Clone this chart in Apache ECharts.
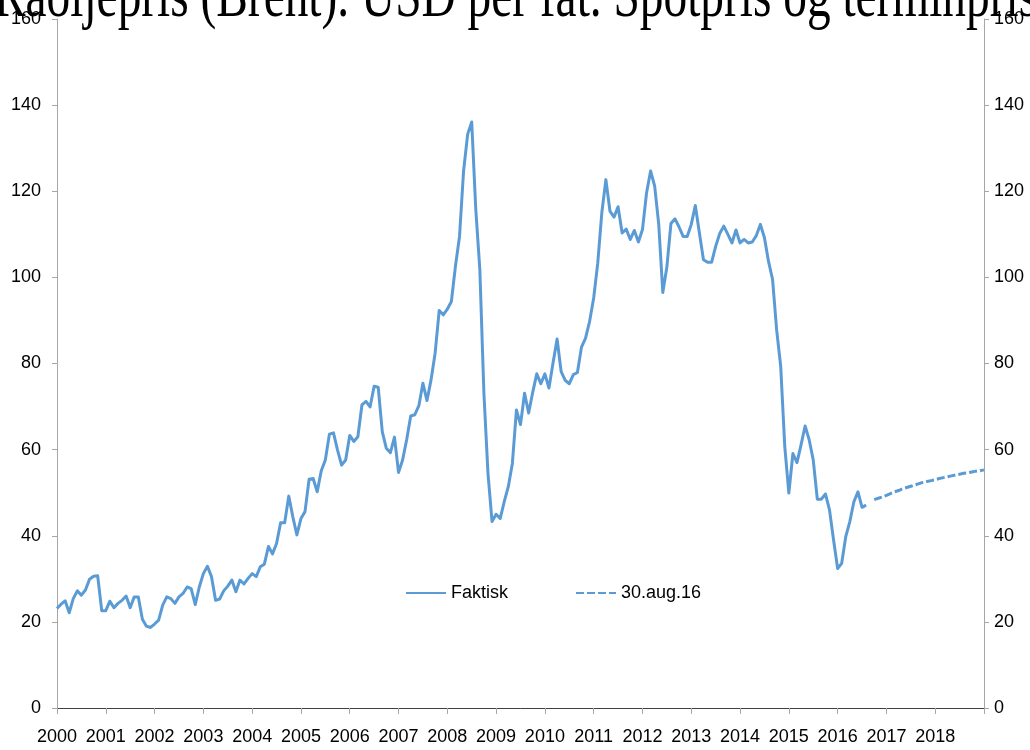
<!DOCTYPE html>
<html>
<head>
<meta charset="utf-8">
<title>Råoljepris (Brent)</title>
<script src="https://cdn.jsdelivr.net/npm/echarts@6/dist/echarts.min.js"></script>
<style>
  html, body { margin: 0; padding: 0; background: #fff; }
  #main { width: 1030px; height: 750px; }
</style>
</head>
<body>
<div id="main"></div>
<script>
// Brent, USD per fat. Månedssnitt jan 2000 - aug 2016
var faktisk = [
  23.1, 24.1, 24.9, 22.1, 25.4, 27.2, 26.2, 27.4, 29.9, 30.6, 30.7, 22.6,
  22.6, 24.8, 23.3, 24.3, 25.0, 26.0, 23.3, 25.8, 25.8, 20.6, 19.0, 18.7,
  19.5, 20.4, 23.9, 25.8, 25.4, 24.3, 25.8, 26.6, 28.1, 27.7, 24.0, 28.1,
  31.2, 32.9, 30.5, 25.0, 25.3, 27.2, 28.3, 29.7, 27.0, 29.7, 28.8, 30.1,
  31.2, 30.5, 32.8, 33.4, 37.5, 35.8, 38.2, 43.0, 43.0, 49.2, 44.4, 40.2,
  44.0, 45.6, 53.1, 53.3, 50.2, 55.1, 57.6, 63.6, 63.9, 59.9, 56.4, 57.6,
  63.3, 61.9, 63.0, 70.4, 71.2, 69.9, 74.7, 74.5, 64.2, 60.3, 59.3, 62.9,
  54.7, 57.6, 62.3, 67.8, 68.1, 70.2, 75.4, 71.4, 76.2, 82.4, 92.3, 91.3,
  92.6, 94.4, 102.6, 109.5, 124.7, 133.2, 136.1, 115.8, 101.8, 73.1, 54.5, 43.3,
  45.0, 44.0, 47.9, 51.4, 56.8, 69.2, 65.8, 73.1, 68.5, 73.3, 77.6, 75.3,
  77.6, 74.3, 80.1, 85.7, 78.1, 76.1, 75.3, 77.4, 77.9, 83.8, 85.9, 89.8,
  95.2, 103.3, 115.0, 122.7, 115.4, 114.0, 116.4, 110.3, 111.2, 108.8, 110.9, 108.2,
  111.1, 119.6, 124.7, 121.2, 112.3, 96.5, 102.4, 112.5, 113.6, 111.7, 109.5, 109.5,
  112.3, 116.7, 110.3, 104.1, 103.5, 103.5, 107.2, 110.2, 111.9, 110.0, 108.0, 111.0,
  108.0, 108.8, 108.0, 108.2, 109.7, 112.3, 109.2, 103.7, 99.5, 87.8, 79.3, 60.7,
  49.9, 59.1, 57.0, 61.1, 65.5, 62.3, 57.6, 48.5, 48.5, 49.7, 46.0, 39.0,
  32.4, 33.6, 39.8, 43.3, 47.9, 50.2, 46.6, 47.1
];
// terminpriser 30.aug.16, okt 2016 - jan 2019
var termin = [
  48.4, 48.7, 49.0, 49.4, 49.8, 50.2, 50.5, 50.9, 51.2, 51.5, 51.8, 52.1,
  52.4, 52.6, 52.8, 53.0, 53.3, 53.5, 53.7, 53.9, 54.1, 54.3, 54.5, 54.6,
  54.8, 55.0, 55.1, 55.3
];
var faktiskStart = [2000, 1];
var terminStart = [2016, 10];
var years = [2000, 2001, 2002, 2003, 2004, 2005, 2006, 2007, 2008, 2009,
  2010, 2011, 2012, 2013, 2014, 2015, 2016, 2017, 2018];
var yTicks = [0, 20, 40, 60, 80, 100, 120, 140, 160];
var tittel = 'Råoljepris (Brent). USD per fat. Spotpris og terminpris';

var blue = '#5b9bd5';
var axisGrey = '#a6a6a6';
var sans = '"Liberation Sans", Arial, sans-serif';

// månedsindeks -> år med desimaler
function toPoints(start, values) {
  return values.map(function (v, i) {
    var m = (start[0] - years[0]) * 12 + start[1] - 1 + i;
    return [years[0] + m / 12, v];
  });
}

function yAxisCfg(pos, margin) {
  return {
    type: 'value',
    position: pos,
    min: yTicks[0],
    max: yTicks[yTicks.length - 1],
    interval: yTicks[1] - yTicks[0],
    axisLine: { show: true, lineStyle: { color: axisGrey, width: 1 } },
    axisTick: { show: true, length: 5, lineStyle: { color: axisGrey } },
    axisLabel: { margin: margin, color: '#000', fontSize: 18, fontFamily: sans },
    splitLine: { show: false }
  };
}

var chart = echarts.init(document.getElementById('main'));
chart.setOption({
  animation: false,
  backgroundColor: '#fff',
  grid: { left: 57, right: 46, top: 19, bottom: 42 },
  graphic: [{
    type: 'text',
    x: -6,
    y: 31,
    scaleX: 0.74,
    z: 100,
    style: {
      text: tittel,
      font: '64px "Liberation Serif", "Times New Roman", serif',
      fill: '#000',
      verticalAlign: 'bottom'
    }
  }],
  legend: {
    left: 405,
    top: 584,
    padding: 0,
    itemWidth: 40,
    itemHeight: 14,
    itemGap: 67,
    itemStyle: { opacity: 0 },
    textStyle: { color: '#000', fontSize: 18, fontFamily: sans },
    data: ['Faktisk', '30.aug.16']
  },
  xAxis: [{
    type: 'value',
    min: years[0],
    max: years[years.length - 1] + 1,
    interval: 1,
    axisLine: { show: true, lineStyle: { color: axisGrey } },
    axisTick: { show: true, length: 6, lineStyle: { color: axisGrey } },
    axisLabel: {
      margin: 20,
      color: '#000',
      fontSize: 18,
      fontFamily: sans,
      formatter: function (v) { return years.indexOf(v) >= 0 ? String(v) : ''; }
    },
    splitLine: { show: false }
  }, {
    type: 'value',
    position: 'top',
    min: years[0],
    max: years[years.length - 1] + 1,
    axisLine: { show: true, lineStyle: { color: '#404040' } },
    axisTick: { show: false },
    axisLabel: { show: false },
    splitLine: { show: false }
  }],
  yAxis: [yAxisCfg('left', 16), yAxisCfg('right', 10)],
  series: [{
    name: 'Faktisk',
    type: 'line',
    data: toPoints(faktiskStart, faktisk),
    symbol: 'none',
    itemStyle: { color: blue, opacity: 0 },
    lineStyle: { color: blue, width: 3, join: 'round' }
  }, {
    name: '30.aug.16',
    type: 'line',
    data: toPoints(terminStart, termin),
    symbol: 'none',
    itemStyle: { color: blue, opacity: 0 },
    lineStyle: { color: blue, width: 3, type: [8, 3] }
  }]
});
</script>
</body>
</html>
